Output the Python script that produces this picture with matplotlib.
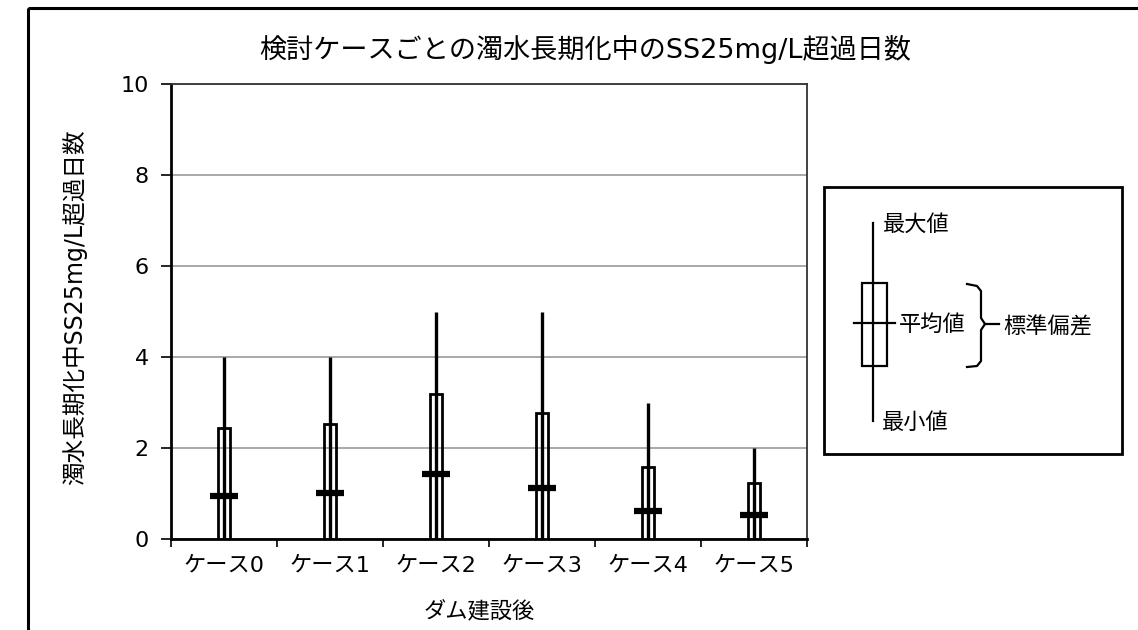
import matplotlib
matplotlib.use("Agg")
import matplotlib.pyplot as plt
from matplotlib.patches import Rectangle

plt.rcParams['font.family'] = ['DejaVu Sans', 'Noto Sans CJK JP']

# data
cases = ['ケース0', 'ケース1', 'ケース2', 'ケース3', 'ケース4', 'ケース5']
means = [0.94, 1.01, 1.43, 1.11, 0.62, 0.52]
sds = [1.51, 1.51, 1.75, 1.66, 0.96, 0.70]
maxs = [4, 4, 5, 5, 3, 2]
mins = [0, 0, 0, 0, 0, 0]
yticks = [0, 2, 4, 6, 8, 10]

W, H = 1138, 630
fig = plt.figure(figsize=(W / 100, H / 100), dpi=100)

ax = fig.add_axes([171 / W, 1 - 539 / H, (807 - 171) / W, (539 - 84) / H])
ax.set_xlim(-0.5, len(cases) - 0.5)
ax.set_ylim(0, 10)

for i in range(len(cases)):
    ax.vlines(i, mins[i], maxs[i], color='black', lw=2.4, zorder=3)
    ax.add_patch(Rectangle((i - 0.06, means[i] - sds[i]), 0.12, 2 * sds[i],
                           fill=False, ec='black', lw=2.0, zorder=3))
    ax.hlines(means[i], i - 0.135, i + 0.135, color='black', lw=4.5, zorder=4)

ax.set_yticks(yticks)
ax.set_yticklabels([str(v) for v in yticks], fontsize=16)
ax.yaxis.grid(True, color='#999999', lw=1.2)
ax.set_axisbelow(True)
ax.tick_params(axis='y', length=7, width=1.2, pad=9)

ax.set_xticks([i - 0.5 for i in range(len(cases) + 1)])
ax.set_xticklabels([])
ax.set_xticks(range(len(cases)), minor=True)
ax.set_xticklabels(cases, minor=True, fontsize=16)
ax.tick_params(axis='x', which='major', length=6, width=1.2)
ax.tick_params(axis='x', which='minor', length=0, pad=12)

for s in ['left', 'bottom']:
    ax.spines[s].set_linewidth(2)
for s in ['right', 'top']:
    ax.spines[s].set_linewidth(1.3)
    ax.spines[s].set_color('#333333')

ax.set_xlabel('ダム建設後', fontsize=16, va='center')
ax.xaxis.set_label_coords((479 - 171) / 636, (539 - 611) / 455)
ax.set_ylabel('濁水長期化中SS25mg/L超過日数', fontsize=17, va='center')
ax.yaxis.set_label_coords((75 - 171) / 636, (539 - 307) / 455)
fig.text(585 / W, 1 - 50 / H, '検討ケースごとの濁水長期化中のSS25mg/L超過日数',
         fontsize=19.5, ha='center', va='center')

# overlay in pixel coordinates for the outer frame and the explanation box
ov = fig.add_axes([0, 0, 1, 1], zorder=5)
ov.set_xlim(0, W)
ov.set_ylim(H, 0)
ov.axis('off')
ov.patch.set_alpha(0)

ov.add_patch(Rectangle((28, 8), 1200, 700, fill=False, ec='black', lw=2.2))
ov.add_patch(Rectangle((824, 187), 298, 267, fill=False, ec='black', lw=2.0))

ov.plot([873, 873], [223, 421], color='black', lw=1.6)
ov.add_patch(Rectangle((862, 283), 25, 83, fill=False, ec='black', lw=1.6))
ov.plot([854, 895], [323, 323], color='black', lw=1.6)
ov.text(883, 224, '最大値', fontsize=16, va='center', ha='left')
ov.text(899, 325, '平均値', fontsize=16, va='center', ha='left')
ov.text(882, 423, '最小値', fontsize=16, va='center', ha='left')

bx = [967, 977, 981, 981, 985, 981, 981, 977, 967]
by = [284, 286, 291, 318, 324, 330, 361, 366, 367]
ov.plot(bx, by, color='black', lw=1.6)
ov.plot([985, 999], [324, 324], color='black', lw=1.6)
ov.text(1003, 327, '標準偏差', fontsize=16, va='center', ha='left')

fig.savefig('out.png', dpi=100)
